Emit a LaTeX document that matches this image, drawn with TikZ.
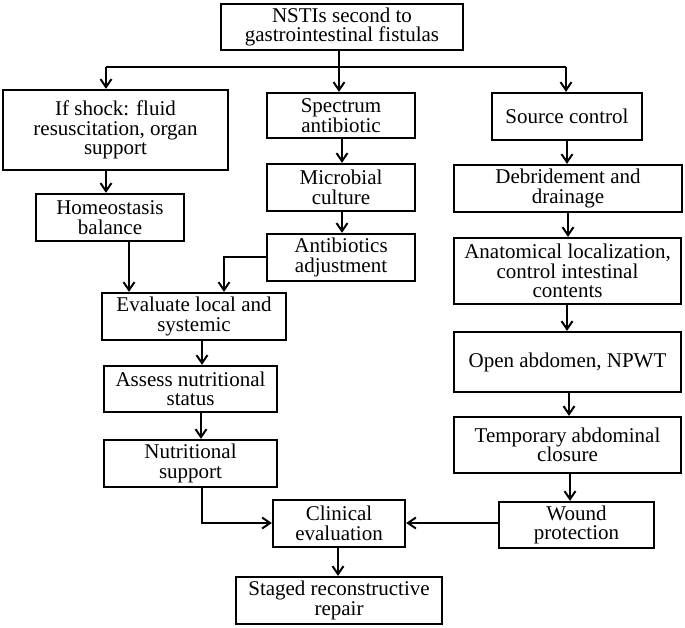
\documentclass[tikz,border=0pt]{standalone}
\usepackage{fontspec}
\setmainfont{Liberation Serif}
\usetikzlibrary{arrows.meta}
\lineskiplimit=-20pt
\begin{document}
\begin{tikzpicture}[x=1pt,y=-1pt,
  box/.style={draw, line width=2.3pt, inner sep=0pt, align=center,
    font=\fontsize{21}{19.5}\selectfont},
  arr/.style={line width=2pt, -{Straight Barb[length=8pt,width=11pt,line width=2pt]}},
  ln/.style={line width=2pt}]
\useasboundingbox (0,0) rectangle (685,627);
\node[box, minimum width=242, minimum height=46] (top) at (342,27) {NSTIs second to\\gastrointestinal fistulas};
\node[box, minimum width=225, minimum height=80] (shock) at (115.5,130) {If shock: fluid\\resuscitation, organ\\support};
\node[box, minimum width=148, minimum height=45] (spec) at (341,115.5) {Spectrum\\antibiotic};
\node[box, minimum width=150, minimum height=47] (source) at (567,116.5) {Source control};
\node[box, minimum width=148, minimum height=47] (homeo) at (110,217.5) {Homeostasis\\balance};
\node[box, minimum width=148, minimum height=47] (micro) at (341,187.5) {Microbial\\culture};
\node[box, minimum width=228, minimum height=47] (debr) at (568,188.5) {Debridement and\\drainage};
\node[box, minimum width=148, minimum height=47] (adj) at (341,257.5) {Antibiotics\\adjustment};
\node[box, minimum width=227, minimum height=66] (anat) at (567.5,271) {Anatomical localization,\\control intestinal\\contents};
\node[box, minimum width=184, minimum height=47] (eval) at (194,316.5) {Evaluate local and\\systemic};
\node[box, minimum width=227, minimum height=60] (openab) at (567.5,362) {Open abdomen, NPWT};
\node[box, minimum width=173, minimum height=46] (assess) at (190.5,389) {Assess nutritional\\status};
\node[box, minimum width=173, minimum height=47] (nutr) at (190.5,463.5) {Nutritional\\support};
\node[box, minimum width=227, minimum height=56] (temp) at (567.5,445) {Temporary abdominal\\closure};
\node[box, minimum width=155, minimum height=46] (wound) at (576.5,525) {Wound\\protection};
\node[box, minimum width=132, minimum height=47] (clin) at (339,523.5) {Clinical\\evaluation};
\node[box, minimum width=206, minimum height=47] (staged) at (339,600.5) {Staged reconstructive\\repair};
% top split
\coordinate (bar) at (339,67);
\coordinate (bl) at (106,67);
\coordinate (br) at (566,67);
\draw[ln] (top.south -| bar) -- (bar);
\draw[ln] (bl) -- (br);
\draw[arr] (bl) -- (bl |- shock.north);
\draw[arr] (bar) -- (bar |- spec.north);
\draw[arr] (br) -- (br |- source.north);
% left column
\coordinate (c1) at (106,0);
\draw[arr] (shock.south -| c1) -- (homeo.north -| c1);
\coordinate (c2) at (129,0);
\draw[arr] (homeo.south -| c2) -- (eval.north -| c2);
% middle column
\coordinate (c3) at (342,0);
\draw[arr] (spec.south -| c3) -- (micro.north -| c3);
\draw[arr] (micro.south -| c3) -- (adj.north -| c3);
\coordinate (c4) at (224,257);
\draw[arr] (adj.west |- c4) -- (c4) -- (c4 |- eval.north);
% right column
\coordinate (c5) at (567,0);
\draw[arr] (source.south -| c5) -- (debr.north -| c5);
\coordinate (c6) at (568,0);
\draw[arr] (debr.south -| c6) -- (anat.north -| c6);
\draw[arr] (anat.south -| c5) -- (openab.north -| c5);
\coordinate (c7) at (569,0);
\draw[arr] (openab.south -| c7) -- (temp.north -| c7);
\coordinate (c8) at (570,0);
\draw[arr] (temp.south -| c8) -- (wound.north -| c8);
% lower left
\coordinate (c9) at (202,0);
\draw[arr] (eval.south -| c9) -- (assess.north -| c9);
\coordinate (c10) at (201,0);
\draw[arr] (assess.south -| c10) -- (nutr.north -| c10);
\coordinate (c11) at (202,523);
\draw[arr] (nutr.south -| c11) -- (c11) -- (clin.west |- c11);
\draw[arr] (wound.west |- c11) -- (clin.east |- c11);
\coordinate (c12) at (338,0);
\draw[arr] (clin.south -| c12) -- (staged.north -| c12);
\end{tikzpicture}
\end{document}
